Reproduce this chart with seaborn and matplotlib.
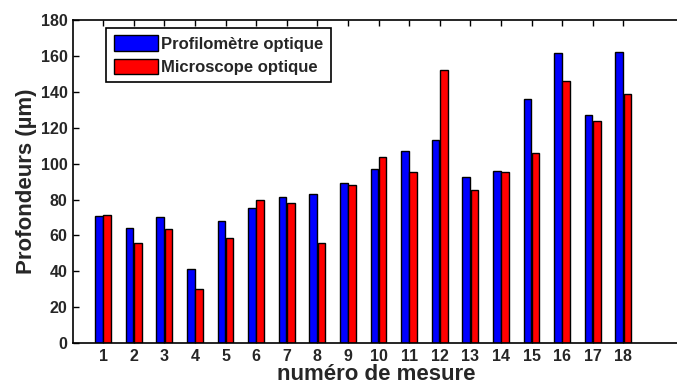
import matplotlib
matplotlib.use("Agg")
import matplotlib.pyplot as plt
import seaborn as sns
import pandas as pd

mesures = [str(i) for i in range(1, 19)]
profilometre = [70.9, 64.0, 70.3, 41.5, 68.1, 75.2, 81.5, 83.1, 89.4, 97.0,
                106.9, 113.2, 92.4, 95.9, 136.0, 161.6, 127.3, 162.2]
microscope = [71.4, 55.8, 63.5, 30.2, 58.8, 79.6, 78.1, 55.8, 87.8, 103.6,
              95.4, 152.2, 85.4, 95.2, 105.8, 146.1, 123.8, 138.8]
series = ["Profilomètre optique", "Microscope optique"]
y_ticks = list(range(0, 181, 20))

df = pd.DataFrame({
    "mesure": mesures * 2,
    "valeur": profilometre + microscope,
    "serie": [series[0]] * len(mesures) + [series[1]] * len(mesures),
})

sns.set_theme(style="white")
plt.rcParams["font.family"] = ["Liberation Sans", "DejaVu Sans"]
plt.rcParams["font.weight"] = "bold"

fig = plt.figure(figsize=(6.77, 3.9), dpi=100)
ax = fig.add_axes([0.108, 0.12, 0.895, 0.829])

sns.barplot(data=df, x="mesure", y="valeur", hue="serie", order=mesures,
            hue_order=series, palette=["#0000ff", "#ff0000"], width=0.54,
            gap=0.08, edgecolor="black", linewidth=1, saturation=1,
            errorbar=None, ax=ax)

ax.set_xlim(-0.98, 18.82)
ax.set_ylim(0, 180)
ax.set_yticks(y_ticks)
ax.set_yticklabels([str(t) for t in y_ticks], fontsize=11.5, fontweight="bold")
ax.set_xticks(range(len(mesures)))
ax.set_xticklabels(mesures, fontsize=11.5, fontweight="bold")
ax.tick_params(axis="both", direction="in", length=4, width=1, color="black",
               top=True, bottom=True, left=True, right=False, pad=4)
for s in ax.spines.values():
    s.set_color("black")
    s.set_linewidth(1.2)

ax.set_xlabel("numéro de mesure", fontsize=16, fontweight="bold", labelpad=0)
ax.set_ylabel("Profondeurs (µm)", fontsize=16, fontweight="bold", labelpad=3)

leg = ax.legend(loc="upper left", bbox_to_anchor=(0.055, 0.975), frameon=True,
                fancybox=False, edgecolor="black", framealpha=1,
                prop={"size": 12, "weight": "bold"}, handlelength=2.65,
                handleheight=1.05, borderpad=0.45, labelspacing=0.4,
                handletextpad=0.2, borderaxespad=0)
leg.get_frame().set_linewidth(1.2)

fig.savefig("out.png", dpi=100)
